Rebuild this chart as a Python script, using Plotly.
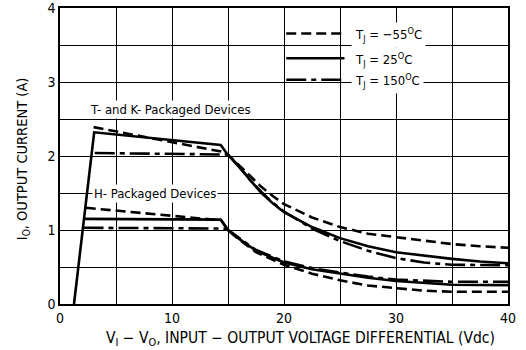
import plotly.graph_objects as go

# ---- data ----
# T- and K- packaged devices
tk_m55_x = [3.0, 14.4, 15, 16, 17, 18, 19, 20, 22.5, 25, 27.5, 30, 32.5, 35, 37.5, 40]
tk_m55_y = [2.39, 2.06, 2.02, 1.87, 1.72, 1.58, 1.46, 1.35, 1.17, 1.04, 0.95, 0.90, 0.85, 0.81, 0.78, 0.76]

tk_25_x = [1.25, 3.05, 14.35, 15, 16, 17, 18, 19, 20, 22.5, 25, 27.5, 30, 32.5, 35, 37.5, 40]
tk_25_y = [0.0, 2.32, 2.15, 2.01, 1.86, 1.67, 1.50, 1.36, 1.24, 1.04, 0.89, 0.78, 0.70, 0.65, 0.61, 0.575, 0.55]

tk_150_x = [3.1, 14.5, 15, 16, 17, 18, 19, 20, 22.5, 25, 27.5, 30, 32.5, 35, 37.5, 40]
tk_150_y = [2.04, 2.02, 2.02, 1.85, 1.67, 1.51, 1.37, 1.25, 1.02, 0.85, 0.72, 0.62, 0.56, 0.53, 0.525, 0.525]

# H- packaged devices
h_m55_x = [2.3, 14.4, 15, 16, 17.5, 20, 22.5, 25, 27.5, 30, 32.5, 35, 40]
h_m55_y = [1.30, 1.13, 1.0, 0.87, 0.70, 0.53, 0.41, 0.32, 0.25, 0.21, 0.18, 0.165, 0.165]

h_25_x = [2.1, 14.35, 15, 16, 17.5, 20, 22.5, 25, 27.5, 30, 32.5, 35, 40]
h_25_y = [1.15, 1.14, 1.0, 0.88, 0.72, 0.56, 0.47, 0.41, 0.355, 0.31, 0.28, 0.26, 0.255]

h_150_x = [2.1, 14.6, 15, 16, 17.5, 20, 22.5, 25, 27.5, 30, 32.5, 35, 40]
h_150_y = [1.03, 1.02, 1.0, 0.89, 0.73, 0.575, 0.485, 0.425, 0.37, 0.33, 0.31, 0.30, 0.30]

x_tickvals = [0, 10, 20, 30, 40]
x_ticktext = ["0", "10", "20", "30", "40"]
y_tickvals = [0, 1, 2, 3, 4]
y_ticktext = ["0", "1", "2", "3", "4"]

legend_labels = ["T<sub>J</sub> = −55<sup>O</sup>C",
                 "T<sub>J</sub> = 25<sup>O</sup>C",
                 "T<sub>J</sub> = 150<sup>O</sup>C"]

FONT = "Liberation Sans Narrow, DejaVu Sans Condensed, sans-serif"
DASH = "10px,5px"
DASHDOT = "20px,5px,5px,5px"
LW = 2.6

fig = go.Figure()
series = [
    (tk_m55_x, tk_m55_y, DASH), (tk_25_x, tk_25_y, "solid"), (tk_150_x, tk_150_y, DASHDOT),
    (h_m55_x, h_m55_y, DASH), (h_25_x, h_25_y, "solid"), (h_150_x, h_150_y, DASHDOT),
]
for xs, ys, d in series:
    fig.add_trace(go.Scatter(x=xs, y=ys, mode="lines",
                             line=dict(color="black", width=LW, dash=d),
                             showlegend=False, hoverinfo="skip"))

# legend block
leg_y = [3.655, 3.32, 3.03]
leg_dash = [DASH, "solid", DASHDOT]
for yy, d, lab in zip(leg_y, leg_dash, legend_labels):
    fig.add_shape(type="line", x0=20.2, x1=25.4, y0=yy, y1=yy,
                  line=dict(color="black", width=LW, dash=d))
    fig.add_annotation(x=25.95, y=yy - 0.02, text=lab, showarrow=False, xanchor="left",
                       yanchor="middle", bgcolor="white", borderpad=3,
                       font=dict(family=FONT, size=13, color="black"))

fig.add_annotation(x=9.85, y=2.63, text="T- and K- Packaged Devices", showarrow=False,
                   bgcolor="white", font=dict(family=FONT, size=13, color="black"))
fig.add_annotation(x=8.5, y=1.49, text="H- Packaged Devices", showarrow=False,
                   bgcolor="white", font=dict(family=FONT, size=13, color="black"))

fig.add_annotation(xref="paper", yref="paper", x=0.536, y=-0.117,
                   text="V<sub>I</sub> − V<sub>O</sub>, INPUT − OUTPUT VOLTAGE DIFFERENTIAL (Vdc)",
                   showarrow=False, xanchor="center", yanchor="middle",
                   font=dict(family=FONT, size=15.5, color="black"))
fig.add_annotation(xref="paper", yref="paper", x=-0.082, y=0.49,
                   text="I<sub>O</sub>, OUTPUT CURRENT (A)", textangle=-90,
                   showarrow=False, xanchor="center", yanchor="middle",
                   font=dict(family=FONT, size=14.5, color="black"))

axis_common = dict(showgrid=True, gridcolor="black", gridwidth=1, showline=True,
                   linecolor="black", linewidth=1.5, mirror=True, zeroline=False,
                   ticks="", ticklabeloverflow="allow", automargin=False,
                   tickfont=dict(family=FONT, size=14, color="black"))
fig.update_xaxes(range=[0, 40], tickvals=x_tickvals, ticktext=x_ticktext,
                 minor=dict(dtick=5, showgrid=True, gridcolor="black", gridwidth=1),
                 **axis_common)
fig.update_yaxes(range=[0, 4], tickvals=y_tickvals, ticktext=y_ticktext,
                 minor=dict(dtick=0.5, showgrid=True, gridcolor="black", gridwidth=1),
                 **axis_common)

fig.update_layout(width=526, height=350, margin=dict(l=60, r=18, t=8, b=46),
                  paper_bgcolor="white", plot_bgcolor="white",
                  font=dict(family=FONT, color="black"))
fig.write_html("out.html", config={"displayModeBar": False},
               post_script="document.body.style.margin='0';")
